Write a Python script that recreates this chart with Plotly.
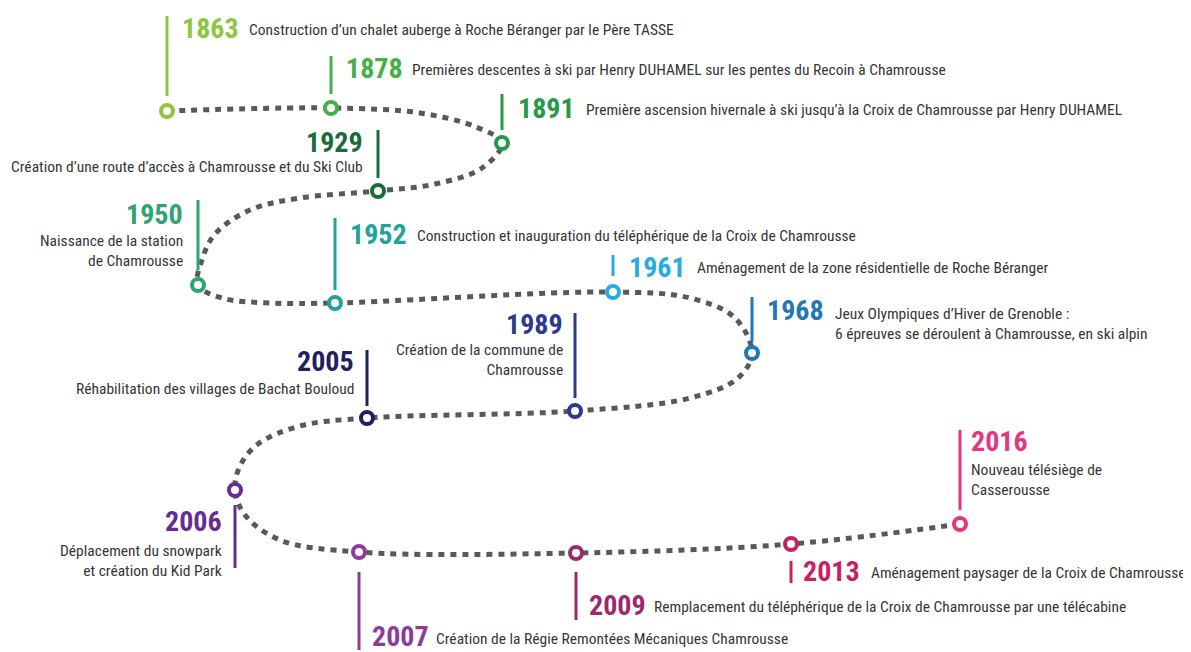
import plotly.graph_objects as go

# ---- data ----
years = ["1863", "1878", "1891", "1929", "1950", "1952", "1961", "1968",
         "1989", "2005", "2006", "2007", "2009", "2013", "2016"]
descs = [
    "Construction d’un chalet auberge à Roche Béranger par le Père TASSE",
    "Premières descentes à ski par Henry DUHAMEL sur les pentes du Recoin à Chamrousse",
    "Première ascension hivernale à ski jusqu’à la Croix de Chamrousse par Henry DUHAMEL",
    "Création d’une route d’accès à Chamrousse et du Ski Club",
    "Naissance de la station<br>de Chamrousse",
    "Construction et inauguration du téléphérique de la Croix de Chamrousse",
    "Aménagement de la zone résidentielle de Roche Béranger",
    "Jeux Olympiques d’Hiver de Grenoble :<br>6 épreuves se déroulent à Chamrousse, en ski alpin",
    "Création de la commune de<br>Chamrousse",
    "Réhabilitation des villages de Bachat Bouloud",
    "Déplacement du snowpark<br>et création du Kid Park",
    "Création de la Régie Remontées Mécaniques Chamrousse",
    "Remplacement du téléphérique de la Croix de Chamrousse par une télécabine",
    "Aménagement paysager de la Croix de Chamrousse",
    "Nouveau télésiège de<br>Casserousse",
]
colors = ["#8dc63f", "#45b04a", "#26994a", "#1a6b3c", "#2ea56e", "#22a39a",
          "#2aaae2", "#1f78b8", "#2b3990", "#231f5e", "#662d91", "#8e3a98",
          "#9b2a6c", "#c7215f", "#e3367f"]

# node positions (pixel space of the infographic)
node_x = [167, 331, 502, 378, 198, 335, 613, 752, 575, 367, 235, 359, 576, 791, 960]
node_y = [111, 108, 143, 191, 285, 303, 292, 353, 411, 418, 490, 552, 553, 544, 524]

# winding dotted path (waypoints)
path_x = [167, 331, 420, 476, 502, 482, 435, 378, 300, 250, 215, 202, 198,
          222, 270, 335, 613, 690, 735, 752, 738, 690, 575, 367, 300, 258, 240, 235,
          245, 280, 359, 576, 791, 960]
path_y = [111, 108, 113, 127, 143, 168, 184, 191, 198, 210, 234, 260, 285,
          298, 303, 303, 292, 298, 318, 353, 378, 398, 411, 418, 426, 444, 466, 490,
          515, 540, 552, 553, 544, 524]

# stems
stem_top = [16, 56, 94, 130, 200, 218, 255, 297, 313, 350, 505, 572, 572, 561, 430]
stem_bot = [96, 94, 130, 178, 270, 290, 276, 342, 398, 406, 568, 650, 620, 583, 510]

# label layout
side = ["L", "L", "L", "R", "R", "L", "L", "L", "R", "R", "R", "L", "L", "L", "LB"]
year_x = [183, 347, 519, 362, 182, 351, 630, 768, 562, 353, 221, 373, 590, 804, 972]
year_y = [28, 68, 108, 142, 214, 234, 267, 310, 324, 361, 521, 636, 605, 571, 441]
desc_x = [250, 413, 587, 362, 182, 418, 698, 836, 562, 353, 221, 437, 655, 872, 972]
desc_y = [30, 70, 110, 167, 251, 236, 268, 324, 360, 389, 561, 639, 607, 573, 480]

FONT = "Roboto Condensed, DejaVu Sans Condensed, Liberation Sans Narrow, Roboto, sans-serif"


def cond(t):
    return '<span style="font-stretch:condensed">' + t + "</span>"


fig = go.Figure()

fig.add_trace(go.Scatter(
    x=path_x, y=path_y, mode="lines",
    line=dict(color="#58595b", width=5, dash="6px,6px", shape="spline", smoothing=1.0),
    hoverinfo="skip", showlegend=False))

for i in range(len(years)):
    fig.add_shape(type="line", xref="x", yref="y",
                  x0=node_x[i], x1=node_x[i], y0=stem_top[i], y1=stem_bot[i],
                  line=dict(color=colors[i], width=3))

fig.add_trace(go.Scatter(
    x=node_x, y=node_y, mode="markers",
    marker=dict(size=12, color="white", line=dict(color=colors, width=4)),
    text=years, hoverinfo="text", showlegend=False))

for i in range(len(years)):
    right = side[i] == "R"
    anchor = "right" if right else "left"
    shift = 3 if right else -3
    fig.add_annotation(x=year_x[i], y=year_y[i], xref="x", yref="y", xshift=shift,
                       text=cond(years[i]), showarrow=False, xanchor=anchor, yanchor="middle",
                       font=dict(family=FONT, size=28, color=colors[i], weight="bold"))
    fig.add_annotation(x=desc_x[i], y=desc_y[i], xref="x", yref="y", xshift=shift,
                       text=cond(descs[i]), showarrow=False, xanchor=anchor, yanchor="middle",
                       align="right" if right else "left",
                       font=dict(family=FONT, size=15.5, color="#363636"))

# page has an 8px body margin: shift the view so pixels line up with the reference
fig.update_layout(
    width=1183, height=644,
    margin=dict(l=0, r=0, t=0, b=0),
    paper_bgcolor="white", plot_bgcolor="white",
    xaxis=dict(range=[8, 1191], visible=False, fixedrange=True),
    yaxis=dict(range=[652, 8], visible=False, fixedrange=True),
)

fig.write_html("out.html")
